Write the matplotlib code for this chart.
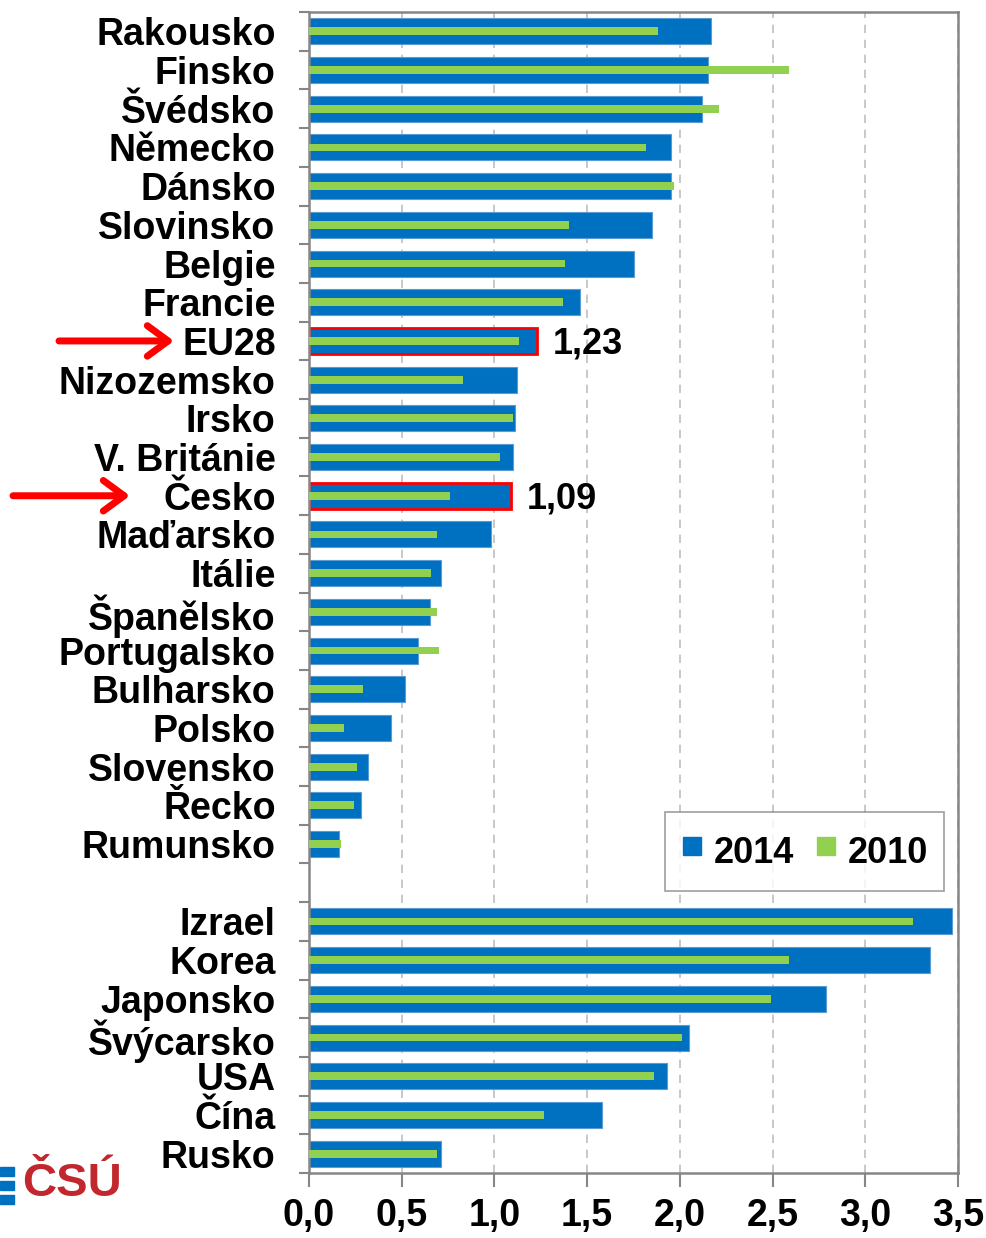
import matplotlib.pyplot as plt
import matplotlib.patches as mpatches
from matplotlib.lines import Line2D
import numpy as np

plt.rcParams['font.family'] = ['Liberation Sans', 'DejaVu Sans']
plt.rcParams['font.weight'] = 'bold'

# EU countries (top block) and non-EU (bottom block), top to bottom
eu_names = ['Rakousko', 'Finsko', 'Švédsko', 'Německo', 'Dánsko', 'Slovinsko',
            'Belgie', 'Francie', 'EU28', 'Nizozemsko', 'Irsko', 'V. Británie',
            'Česko', 'Maďarsko', 'Itálie', 'Španělsko', 'Portugalsko',
            'Bulharsko', 'Polsko', 'Slovensko', 'Řecko', 'Rumunsko']
eu_2014 = [2.17, 2.15, 2.12, 1.95, 1.95, 1.85, 1.75, 1.46, 1.23, 1.12, 1.11, 1.10,
           1.09, 0.98, 0.71, 0.65, 0.59, 0.52, 0.44, 0.32, 0.28, 0.16]
eu_2010 = [1.88, 2.59, 2.21, 1.82, 1.97, 1.40, 1.38, 1.37, 1.13, 0.83, 1.10, 1.03,
           0.76, 0.69, 0.66, 0.69, 0.70, 0.29, 0.19, 0.26, 0.24, 0.17]

other_names = ['Izrael', 'Korea', 'Japonsko', 'Švýcarsko', 'USA', 'Čína', 'Rusko']
other_2014 = [3.47, 3.35, 2.79, 2.05, 1.93, 1.58, 0.71]
other_2010 = [3.26, 2.59, 2.49, 2.01, 1.86, 1.27, 0.69]

highlight = ['EU28', 'Česko']
# arrow tail / head x in figure pixels for the highlighted labels
arrow_x = {'EU28': (59, 174), 'Česko': (13, 130)}
xticks = [0.0, 0.5, 1.0, 1.5, 2.0, 2.5, 3.0, 3.5]

BLUE = '#0070C0'
GREEN = '#92D050'
RED = '#FF0000'

names = eu_names + other_names
v2014 = eu_2014 + other_2014
v2010 = eu_2010 + other_2010
# one empty slot between the two blocks
pos = list(range(len(eu_names))) + list(range(len(eu_names) + 1, len(names) + 1))

W, H = 987, 1238
fig = plt.figure(figsize=(W / 100, H / 100), dpi=100)
ax = fig.add_axes([309 / W, 1 - 1173 / H, (958 - 309) / W, (1173 - 12) / H])

edge = [RED if n in highlight else '#5B9BD5' for n in names]
lw = [2.0 if n in highlight else 0.8 for n in names]
ax.barh(pos, v2014, height=0.67, color=BLUE, edgecolor=edge, linewidth=lw, zorder=2)
ax.barh(pos, v2010, height=0.2, color=GREEN, zorder=3)

for n, p, v in zip(names, pos, v2014):
    if n in highlight:
        ax.annotate(f'{v:.2f}'.replace('.', ','), xy=(v, p), xytext=(11, -2),
                    textcoords='offset points', va='center', ha='left',
                    fontsize=26, fontweight='bold')
        x0, x1 = arrow_x[n]
        ax.annotate('', xy=(x1 / W, p), xycoords=('figure fraction', 'data'),
                    xytext=(x0 / W, p), textcoords=('figure fraction', 'data'),
                    arrowprops=dict(arrowstyle='->,head_length=0.75,head_width=0.55',
                                    mutation_scale=20, color=RED, lw=5,
                                    capstyle='round', joinstyle='round',
                                    shrinkA=0, shrinkB=0),
                    annotation_clip=False)

ax.set_xlim(0, 3.5)
ax.set_ylim(len(names) + 0.5, -0.5)
ax.set_xticks(xticks)
ax.set_xticklabels([f'{t:.1f}'.replace('.', ',') for t in xticks],
                   fontsize=27, fontweight='bold')
ax.set_yticks(pos)
ax.set_yticklabels(names, fontsize=27, fontweight='bold')
ax.set_yticks(np.arange(-0.5, len(names) + 1), minor=True)
ax.tick_params(axis='y', which='major', length=0, pad=24)
ax.tick_params(axis='y', which='minor', length=7, width=1.5, color='#868686')
ax.tick_params(axis='x', length=10, width=1.5, color='#868686', pad=8)

ax.xaxis.grid(True, linestyle=(0, (5, 4)), color='#BFBFBF', linewidth=1.2, zorder=0)
ax.set_axisbelow(True)
for s in ax.spines.values():
    s.set_color('#868686')
    s.set_linewidth(1.8)

handles = [Line2D([], [], marker='s', color=BLUE, linestyle='none', markersize=13),
           Line2D([], [], marker='s', color=GREEN, linestyle='none', markersize=13)]
leg = ax.legend(handles, ['2014', '2010'], loc='center',
                bbox_to_anchor=(0.7635, 0.2769), ncol=2,
                fontsize=26, frameon=True, fancybox=False, edgecolor='#868686',
                handlelength=0.6, handleheight=1.6, handletextpad=0.3,
                columnspacing=0.6, borderpad=0.45, borderaxespad=0)
leg.get_frame().set_linewidth(1.2)
for t in leg.get_texts():
    t.set_fontweight('bold')

# ČSÚ logo
fig.text(22 / W, 1 - 1184 / H, 'ČSÚ', color='#C1272D', fontsize=34,
         fontweight='bold', va='center', ha='left')
for yb in [1167, 1181, 1195]:
    fig.patches.append(mpatches.Rectangle((0, 1 - (yb + 9) / H), 14 / W, 9 / H,
                                          transform=fig.transFigure, color=BLUE))

fig.savefig('out.png', dpi=100)
